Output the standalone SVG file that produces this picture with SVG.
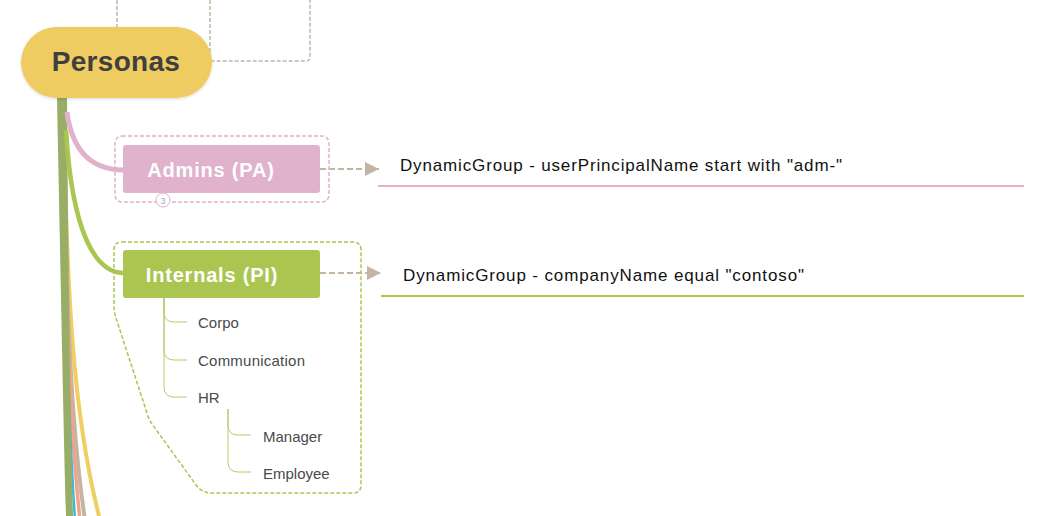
<svg xmlns="http://www.w3.org/2000/svg" width="1060" height="516" viewBox="0 0 1060 516">
<style>
.dash{fill:none;stroke:#C4B4A4;stroke-width:1.5;stroke-dasharray:4 2}
.node-t{font-family:"Liberation Sans",Arial,sans-serif;font-weight:bold;fill:#fff;font-size:20px;letter-spacing:0.8px;text-anchor:middle}
.desc{font-family:"Liberation Sans",Arial,sans-serif;font-size:17px;fill:#111}
.sub{font-family:"Liberation Sans",Arial,sans-serif;font-size:15px;fill:#4a4a4a}
.subl{fill:none;stroke:#B5CC6A;stroke-width:1}
.arrow{fill:none;stroke:#C4B4A4;stroke-width:2;stroke-dasharray:6 3}
</style>
<defs>
<marker id="ah" markerUnits="userSpaceOnUse" markerWidth="14" markerHeight="14" refX="14" refY="7" orient="auto">
<path d="M0,0 L14,7 L0,14 Z" fill="#C4B4A4"/>
</marker>
<filter id="sh" x="-10%" y="-10%" width="120%" height="130%">
<feDropShadow dx="0" dy="1" stdDeviation="1.5" flood-color="#000" flood-opacity="0.15"/>
</filter>
</defs>
<g id="top-frame">
<path class="dash" d="M117,0 V30"/>
<path class="dash" d="M210,0 V57 Q210,61 214,61 H306 Q310,61 310,57 V0"/>
</g>
<g id="connectors">
<path d="M64,100 C66,300 74,420 100,520" fill="none" stroke="#EFCF60" stroke-width="4"/>
<path d="M64,100 C66,300 70,420 85,520" fill="none" stroke="#C4B4A4" stroke-width="4"/>
<path d="M64,100 C66,300 69,420 80,520" fill="none" stroke="#F0A48C" stroke-width="3.5"/>
<path d="M64,100 C66,300 68,420 75,520" fill="none" stroke="#3DB9D6" stroke-width="2.5"/>
<path d="M57,98 L67,98 C68,250 70,400 73,516 L66,516 C63,400 60,250 57,98 Z" fill="#98AE67"/>
<path d="M67,112 C72,150 90,170 124,170" fill="none" stroke="#E0B2CB" stroke-width="5"/>
<path d="M66,130 C72,232 95,273 124,273" fill="none" stroke="#AAC651" stroke-width="4.5"/>
<path class="arrow" d="M320,169 H379" marker-end="url(#ah)"/>
<path class="arrow" d="M320,273 H381" marker-end="url(#ah)"/>
<path class="subl" d="M164,298 V312 Q164,322 174,322 H187"/>
<path class="subl" d="M164,298 V350 Q164,360 174,360 H187"/>
<path class="subl" d="M164,298 V387 Q164,397 174,397 H187"/>
<path class="subl" d="M228,409 V425 Q228,435 238,435 H251"/>
<path class="subl" d="M228,409 V462 Q228,472 238,472 H251"/>
</g>
<g id="personas">
<rect x="21" y="27" width="191" height="71" rx="35.5" fill="#EFCC62" filter="url(#sh)"/>
<text x="116" y="71" font-family="'Liberation Sans',Arial,sans-serif" font-weight="bold" font-size="28" fill="#3F3F3F" text-anchor="middle" letter-spacing="0.3">Personas</text>
</g>
<g id="admins">
<rect x="115" y="136" width="214" height="66" rx="7" fill="none" stroke="#E0B2CB" stroke-width="1.5" stroke-dasharray="4 2"/>
<rect x="123" y="145" width="197" height="48" rx="3" fill="#E0B2CB"/>
<text class="node-t" x="211" y="177">Admins (PA)</text>
<circle cx="163" cy="200" r="7" fill="#fff" stroke="#E0B2CB" stroke-width="1"/>
<text x="163" y="203.5" font-family="'Liberation Sans',Arial,sans-serif" font-size="9" fill="#aaa" text-anchor="middle">3</text>
</g>
<g id="admins-rule">
<text class="desc" x="400" y="171" textLength="442" lengthAdjust="spacing">DynamicGroup - userPrincipalName start with "adm-"</text>
<line x1="378" y1="186" x2="1024" y2="186" stroke="#E0B2CB" stroke-width="2"/>
</g>
<g id="internals">
<path d="M122,242 H353 Q361,242 361,250 V485 Q361,493 353,493 H212 Q202,493 196,485 L152,424 Q148,418 146,410 L116,318 Q114,312 114,305 V250 Q114,242 122,242 Z" fill="none" stroke="#AAC651" stroke-width="1.5" stroke-dasharray="4 2"/>
<rect x="123" y="250" width="197" height="48" rx="3" fill="#AAC651"/>
<text class="node-t" x="212" y="282">Internals (PI)</text>
</g>
<g id="internals-rule">
<text class="desc" x="403" y="281" textLength="401" lengthAdjust="spacing">DynamicGroup - companyName equal "contoso"</text>
<line x1="381" y1="296" x2="1024" y2="296" stroke="#AAC651" stroke-width="2"/>
</g>
<g id="corpo"><text class="sub" x="198" y="328">Corpo</text></g>
<g id="communication"><text class="sub" x="198" y="366" textLength="107" lengthAdjust="spacing">Communication</text></g>
<g id="hr"><text class="sub" x="198" y="403">HR</text></g>
<g id="manager"><text class="sub" x="263" y="442">Manager</text></g>
<g id="employee"><text class="sub" x="263" y="479">Employee</text></g>
</svg>
